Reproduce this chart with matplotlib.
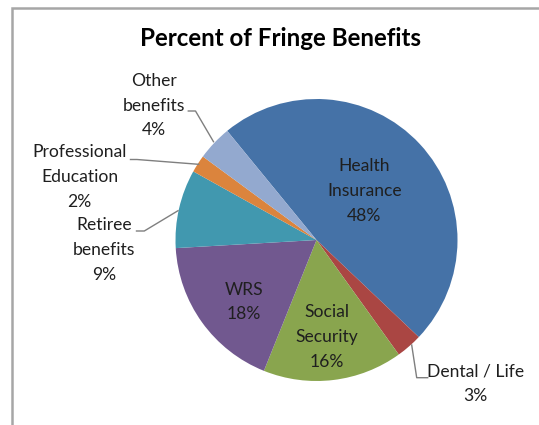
import matplotlib
matplotlib.use("Agg")
import matplotlib.pyplot as plt
from matplotlib.patches import Rectangle

# Data
categories = ["Health\nInsurance", "Dental / Life", "Social\nSecurity", "WRS",
              "Retiree\nbenefits", "Professional\nEducation", "Other\nbenefits"]
values = [48, 3, 16, 18, 9, 2, 4]
colors = ["#4572A7", "#AA4643", "#89A54E", "#71588F", "#4198AF", "#DB843D", "#93A9CF"]
title = "Percent of Fringe Benefits"

W, H = 539, 425
fig = plt.figure(figsize=(W / 100, H / 100), dpi=100)
ax = fig.add_axes([0, 0, 1, 1])

def Y(y):
    return H - y

ax.pie(values, colors=colors, startangle=129.3, counterclock=False,
       center=(316.5, Y(240)), radius=141,
       wedgeprops=dict(linewidth=0))
ax.set_xlim(0, W)
ax.set_ylim(0, H)
ax.set_aspect("equal", adjustable="box")
ax.axis("off")

# frame
ax.add_patch(Rectangle((11.5, Y(600)), 700, 600 - 7.5, fill=False,
                       edgecolor="#a6a6a6", linewidth=1.8, clip_on=False))

FONT = "Lato"
TXT = "#1f1f1f"
fs = 12.6

ax.text(280, Y(38), title, ha="center", va="center", fontsize=17.4,
        fontweight="bold", family=FONT, color="#000000")

# label positions (centre of text block) for each category
label_pos = [(364.3, 191), (475.3, 384), (327.1, 337), (244, 302),
             (104.1, 250), (79.7, 177), (153.6, 105.5)]
for name, v, (x, y) in zip(categories, values, label_pos):
    ax.text(x, Y(y), f"{name}\n{v}%", ha="center", va="center",
            fontsize=fs, family=FONT, color=TXT, linespacing=1.66)

# leader lines
leaders = [
    [(188.3, 111), (195.5, 111), (213.5, 141.7)],   # Other
    [(130.5, 159.5), (137, 159.5), (198.6, 164.3)],  # Professional
    [(136.5, 231), (144.3, 231), (178, 210.7)],     # Retiree
    [(411.7, 345), (416.7, 377.7), (427.7, 377.7)], # Dental
]
for pts in leaders:
    xs = [p[0] for p in pts]
    ys = [Y(p[1]) for p in pts]
    ax.plot(xs, ys, color="#7f7f7f", linewidth=1.0)

fig.savefig("out.png", dpi=100)
